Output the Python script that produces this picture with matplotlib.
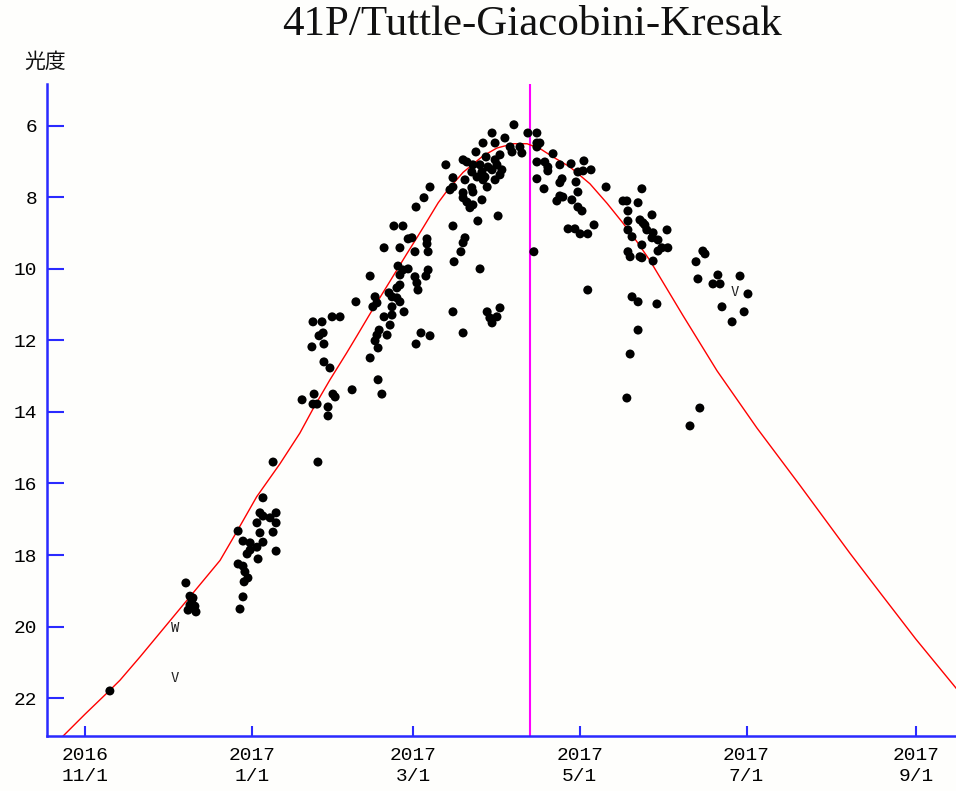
import numpy as np
import pandas as pd
import matplotlib
matplotlib.use("Agg")
import matplotlib.pyplot as plt

# days are counted from 2016-11-01
BASE = pd.Timestamp("2016-11-01")
PERIHELION = pd.Timestamp("2017-04-12 17:00")

curve_day = [-8.0, 0.0, 9.1, 12.8, 20.1, 36.6, 49.4, 55.5, 62.8, 71.3, 78.6, 83.5, 89.6,
             95.7, 99.4, 104.3, 107.9, 111.6, 114.0, 117.7, 121.3, 123.8, 129.2, 132.4,
             138.3, 145.6, 150.7, 156.6, 161.7, 166.5, 171.2, 177.4, 184.7, 191.0, 196.8,
             201.9, 206.6, 218.7, 231.2, 245.8, 261.5, 279.8, 290.8, 303.9, 318.6]
curve_mag = [23.06, 22.45, 21.78, 21.50, 20.85, 19.33, 18.15, 17.35, 16.37, 15.45, 14.59,
             13.90, 13.10, 12.35, 11.88, 11.25, 10.80, 10.34, 10.04, 9.58, 9.14, 8.83,
             8.15, 7.82, 7.30, 6.84, 6.62, 6.50, 6.50, 6.64, 6.87, 7.15, 7.62, 8.17, 8.72,
             9.24, 9.76, 11.30, 12.85, 14.45, 16.05, 17.95, 19.05, 20.35, 21.72]

obs_day = [
    9.1, 36.9, 38.4, 39.1, 40.2, 37.7, 40.6, 39.5, 38.4,
    79.4, 83.8, 83.4, 84.9, 90.7, 91.5, 88.9, 88.9, 68.8, 85.2, 65.1, 64.0, 65.1, 69.9,
    62.9, 67.7, 69.9, 56.0, 68.8, 64.0, 57.8, 60.4, 65.1, 62.9, 60.4, 69.9, 59.3, 63.3,
    56.0, 57.8, 58.5, 59.6, 58.2, 57.8, 56.7,
    126.2, 124.0, 121.1, 113.0, 116.3, 118.2, 119.6, 125.1, 125.1, 109.4, 115.2, 120.7,
    125.5, 114.5, 116.3, 118.2, 115.2, 120.7, 125.5, 124.7, 104.3, 121.4, 121.8, 115.2,
    114.1, 111.2, 112.3, 114.1, 115.2, 106.1, 106.8, 105.3, 99.1, 112.3, 112.3, 116.7,
    109.4, 111.6, 107.6, 106.8, 110.5, 106.1, 107.2, 104.3, 107.2, 108.6, 83.4, 86.7,
    90.4, 93.3, 87.1, 85.6, 87.4, 83.0, 87.4, 89.6, 97.7, 122.9, 126.2, 121.1,
    156.9, 148.9, 162.0, 165.3, 153.6, 145.6, 150.0, 155.5, 159.1, 156.2, 159.8, 165.3,
    165.3, 143.0, 138.3, 139.7, 132.0, 146.7, 150.0, 151.8, 141.9, 144.5, 147.4, 150.7,
    141.5, 145.2, 148.9, 152.5, 151.8, 143.4, 146.3, 134.6, 139.0, 145.6, 150.0, 134.6,
    133.5, 141.5, 147.1, 138.3, 141.9, 138.3, 139.7, 145.2, 141.9, 140.8, 151.1, 143.7,
    134.6, 139.0, 138.3, 137.5, 135.0, 144.5, 165.3, 168.2, 165.3, 167.9, 164.2, 134.6,
    147.1, 148.1, 151.8, 150.7, 148.9, 138.3,
    166.4, 171.2, 169.3, 169.3, 173.7, 177.8, 182.5, 180.3, 182.2, 185.1, 174.5, 173.7,
    179.6, 180.3, 190.6, 203.7, 173.7, 174.8, 172.6, 178.1, 180.3, 181.8, 176.7, 179.2,
    181.1, 183.9, 186.2, 196.8, 198.2, 198.6, 202.3, 198.6, 203.0, 204.8, 205.5, 198.6,
    200.1, 203.7, 198.6, 199.4, 203.0, 183.9,
    207.4, 204.1, 212.9, 207.8, 207.4, 209.6, 213.2, 211.0, 209.6, 203.7, 207.8, 226.0,
    226.8, 223.5, 224.2, 231.5, 229.7, 232.3, 239.6, 242.5, 233.0, 241.1, 236.7, 200.1,
    202.3, 209.2, 202.3, 199.4, 198.2, 224.9, 221.3,
]
obs_mag = [
    21.80, 18.78, 19.15, 19.26, 19.43, 19.54, 19.59, 19.20, 19.40,
    13.66, 13.50, 13.78, 13.78, 13.50, 13.58, 13.86, 14.11, 15.40, 15.40, 16.40, 16.82,
    16.91, 16.82, 17.10, 16.96, 17.10, 17.33, 17.36, 17.38, 17.61, 17.66, 17.64, 17.78,
    17.86, 17.89, 17.97, 18.11, 18.25, 18.31, 18.47, 18.64, 18.75, 19.17, 19.51,
    7.71, 8.01, 8.27, 8.80, 8.80, 9.16, 9.13, 9.16, 9.30, 9.41, 9.41, 9.52,
    9.52, 9.92, 10.03, 10.00, 10.17, 10.22, 10.03, 10.20, 10.20, 10.39, 10.59, 10.45,
    10.53, 10.67, 10.78, 10.81, 10.92, 10.78, 10.95, 11.06, 10.92, 11.06, 11.29, 11.20,
    11.34, 11.57, 11.71, 11.85, 11.85, 12.01, 12.21, 12.49, 13.10, 13.50, 11.48, 11.48,
    11.34, 11.34, 11.79, 11.87, 12.10, 12.18, 12.60, 12.77, 13.38, 11.79, 11.87, 12.10,
    5.97, 6.20, 6.20, 6.20, 6.34, 6.48, 6.48, 6.59, 6.59, 6.73, 6.76, 6.48,
    6.59, 6.73, 6.95, 7.01, 7.09, 6.87, 6.95, 6.81, 7.09, 7.09, 7.15, 7.09,
    7.29, 7.29, 7.23, 7.23, 7.37, 7.43, 7.43, 7.45, 7.51, 7.51, 7.51, 7.71,
    7.79, 7.73, 7.71, 7.87, 7.85, 8.01, 8.13, 8.07, 8.21, 8.29, 8.52, 8.66,
    8.80, 9.13, 9.27, 9.52, 9.80, 10.00, 7.01, 7.01, 7.48, 7.76, 9.52, 11.20,
    11.20, 11.37, 11.09, 11.34, 11.51, 11.79,
    6.48, 6.78, 7.15, 7.26, 7.09, 7.06, 6.98, 7.29, 7.26, 7.23, 7.48, 7.59,
    7.57, 7.85, 7.71, 7.76, 7.96, 7.99, 8.10, 8.07, 8.27, 8.38, 8.88, 8.88,
    9.02, 9.02, 8.77, 8.10, 8.10, 8.38, 8.15, 8.66, 8.63, 8.77, 8.91, 8.91,
    9.10, 9.33, 9.52, 9.66, 9.66, 10.59,
    8.49, 8.71, 8.91, 8.99, 9.13, 9.19, 9.41, 9.41, 9.50, 9.69, 9.78, 9.50,
    9.58, 9.80, 10.28, 10.17, 10.42, 10.42, 10.20, 10.70, 11.06, 11.20, 11.48, 10.78,
    10.92, 10.98, 11.71, 12.38, 13.61, 13.89, 14.39,
]

# upper-limit style marks drawn as letters
mark_day = [32.9, 32.9, 237.7]
mark_mag = [20.04, 21.44, 10.64]
mark_text = ["W", "V", "V"]

tick_dates = ["2016-11-01", "2017-01-01", "2017-03-01", "2017-05-01", "2017-07-01", "2017-09-01"]
tick_labels = ["2016\n11/1", "2017\n1/1", "2017\n3/1", "2017\n5/1", "2017\n7/1", "2017\n9/1"]
y_ticks = [6, 8, 10, 12, 14, 16, 18, 20, 22]


def to_dates(days):
    return BASE + pd.to_timedelta(np.asarray(days, dtype=float), unit="D")


BLUE = "#2a2aff"
BG = "#fefefc"

fig = plt.figure(figsize=(9.56, 7.91), dpi=100, facecolor=BG)
ax = fig.add_axes([47 / 956, 1 - 736 / 791, 909 / 956, 652 / 791], facecolor=BG)

ax.plot(to_dates(curve_day), curve_mag, color="red", linewidth=1.0, zorder=2)
ax.axvline(PERIHELION, color="#ff00ff", linewidth=1.5, zorder=1)
ax.scatter(to_dates(obs_day), obs_mag, s=42, color="black", edgecolors="none", zorder=3)

for d, m, t in zip(mark_day, mark_mag, mark_text):
    ax.text(to_dates([d])[0], m, t, ha="center", va="center", fontsize=10,
            family="DejaVu Sans Mono", color="#222222", zorder=4)

ax.set_xlim(to_dates([-13.9])[0], to_dates([318.6])[0])
ax.set_ylim(23.06, 4.83)

ax.set_xticks([pd.Timestamp(d) for d in tick_dates])
ax.set_xticklabels(tick_labels, family="Liberation Mono", fontsize=14, linespacing=1.3)
ax.set_yticks(y_ticks)
ax.set_yticklabels([str(v) for v in y_ticks], family="Liberation Mono", fontsize=14)

for side in ["top", "right"]:
    ax.spines[side].set_visible(False)
for side in ["left", "bottom"]:
    ax.spines[side].set_color(BLUE)
    ax.spines[side].set_linewidth(1.8)

ax.tick_params(axis="y", direction="in", length=12, width=1.5, color=BLUE, pad=7)
ax.tick_params(axis="x", direction="in", length=7, width=1.5, color=BLUE, pad=8)

fig.text(532 / 956, 1 - 25 / 791, "41P/Tuttle-Giacobini-Kresak", ha="center", va="center",
         family="Liberation Serif", fontsize=31, color="#111111")
fig.text(45 / 956, 1 - 62 / 791, "光度", ha="center", va="center",
         family=["Noto Sans CJK JP", "DejaVu Sans"], fontsize=15, color="#111111")

fig.savefig("out.png", dpi=100, facecolor=BG)
